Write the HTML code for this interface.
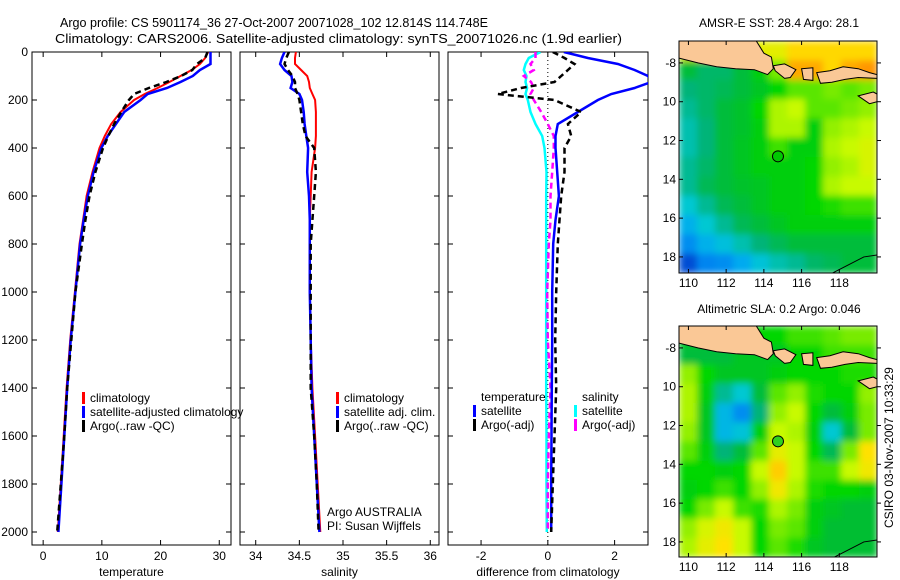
<!DOCTYPE html>
<html><head><meta charset="utf-8"><style>
html,body{margin:0;padding:0;background:#fff;}
svg{display:block;font-family:"Liberation Sans",sans-serif;}
</style></head><body>
<svg id="fig" width="900" height="580" viewBox="0 0 900 580">
<defs>
<filter id="smooth" x="0" y="0" width="1" height="1"><feGaussianBlur stdDeviation="3.5" edgeMode="duplicate"/></filter>
<clipPath id="clipA"><rect x="679" y="41" width="198" height="232"/></clipPath>
<clipPath id="clipB"><rect x="679" y="326" width="198" height="231"/></clipPath>
<clipPath id="clipP1"><rect x="32" y="52" width="199" height="493"/></clipPath>
<clipPath id="clipP2"><rect x="240" y="52" width="199" height="493"/></clipPath>
<clipPath id="clipP3"><rect x="448" y="52" width="200" height="493"/></clipPath>
</defs>
<text x="60" y="27" font-size="13" textLength="428" lengthAdjust="spacingAndGlyphs">Argo profile: CS 5901174_36 27-Oct-2007 20071028_102 12.814S 114.748E</text>
<text x="55" y="43" font-size="13" textLength="567" lengthAdjust="spacingAndGlyphs">Climatology: CARS2006. Satellite-adjusted climatology: synTS_20071026.nc (1.9d earlier)</text>
<text x="779" y="27" font-size="12" text-anchor="middle">AMSR-E SST: 28.4  Argo: 28.1</text>
<text x="779" y="313" font-size="12" text-anchor="middle">Altimetric SLA: 0.2  Argo: 0.046</text>
<text x="0" y="0" font-size="12" transform="translate(893,528) rotate(-90)">CSIRO 03-Nov-2007 10:33:29</text>
<g id="g"></g>
</svg>
<script>
// ---- profile data ----
const depths = [0,25,50,75,100,125,150,175,200,250,300,350,400,500,600,700,800,1000,1200,1400,1600,1800,2000];
const tempClim = [28.1,27.6,26.7,25.3,23.4,21.5,19.5,17.3,15.5,13.2,11.6,10.5,9.6,8.4,7.4,6.8,6.2,5.4,4.6,4.0,3.5,3.0,2.5];
const tempSat  = [28.5,28.5,28.5,26.7,25.5,23.4,21.1,17.8,16.6,13.8,12.4,11.0,9.9,8.6,7.6,6.9,6.3,5.5,4.7,4.1,3.6,3.1,2.6];
const tempArgo = [28.0,27.6,26.2,25.4,23.5,21.0,18.0,15.5,14.6,13.3,12.1,11.1,10.2,8.9,7.9,7.2,6.6,5.5,4.8,4.1,3.6,3.0,2.4];
const salClim = [34.46,34.45,34.45,34.52,34.59,34.61,34.62,34.65,34.68,34.69,34.69,34.69,34.68,34.64,34.63,34.62,34.62,34.62,34.63,34.65,34.68,34.71,34.74];
const salSat  = [34.33,34.30,34.28,34.33,34.41,34.42,34.40,34.50,34.53,34.55,34.56,34.58,34.60,34.59,34.61,34.62,34.62,34.62,34.63,34.64,34.67,34.70,34.73];
const salArgo = [34.38,34.35,34.33,34.37,34.42,34.45,34.45,34.48,34.50,34.52,34.54,34.57,34.67,34.69,34.67,34.65,34.63,34.63,34.63,34.63,34.67,34.70,34.72];
const dTempSat  = [0.48,1.2,2.1,2.6,3.0,3.1,2.6,1.9,1.5,0.9,0.3,0.23,0.23,0.28,0.33,0.23,0.16,0.13,0.13,0.12,0.11,0.1,0.1];
const dTempArgo = [0.15,0.5,0.8,0.6,0.4,0.2,-0.8,-1.5,0.2,1.0,0.6,0.7,0.5,0.5,0.4,0.35,0.3,0.25,0.22,0.25,0.2,0.15,0.1];
const dSalSat  = [-0.22,-0.57,-0.67,-0.72,-0.64,-0.67,-0.62,-0.67,-0.6,-0.52,-0.37,-0.17,-0.1,-0.04,-0.05,-0.05,-0.05,-0.05,-0.05,-0.05,-0.04,-0.04,-0.03];
const dSalArgo = [-0.37,-0.37,-0.52,-0.42,-0.72,-0.5,-0.42,-0.52,-0.42,-0.2,0.0,0.18,0.18,0.13,0.08,0.08,0.03,-0.02,0.0,0.08,0.03,0.0,0.0];
const depthTicks = [0,200,400,600,800,1000,1200,1400,1600,1800,2000];
const tempTicks = [0,10,20,30];
const salTicks = [34,34.5,35,35.5,36];
const diffTicks = [-2,0,2];
// ---- map data (rows lat -7.4 .. -18.4, cols lon 110 .. 120) ----
const sstGrid = [
[0.80,0.85,0.90,0.88,0.80,0.80,0.85,0.85,0.85,0.85,0.85],
[0.55,0.50,0.50,0.55,0.60,0.70,0.90,0.90,0.85,0.90,0.92],
[0.48,0.50,0.52,0.55,0.58,0.62,0.68,0.68,0.70,0.68,0.70],
[0.45,0.50,0.55,0.57,0.62,0.74,0.76,0.68,0.68,0.70,0.72],
[0.42,0.48,0.55,0.57,0.60,0.74,0.74,0.60,0.72,0.74,0.76],
[0.42,0.48,0.55,0.58,0.60,0.66,0.60,0.60,0.74,0.76,0.78],
[0.45,0.50,0.55,0.58,0.60,0.60,0.60,0.62,0.72,0.74,0.78],
[0.45,0.52,0.55,0.57,0.58,0.60,0.60,0.62,0.74,0.76,0.76],
[0.38,0.45,0.52,0.55,0.58,0.60,0.60,0.62,0.64,0.66,0.66],
[0.30,0.38,0.45,0.52,0.55,0.58,0.60,0.60,0.60,0.60,0.60],
[0.22,0.30,0.35,0.42,0.48,0.52,0.55,0.55,0.55,0.55,0.55],
[0.08,0.20,0.22,0.28,0.36,0.42,0.45,0.50,0.52,0.55,0.55]];
const slaGrid = [
[0.60,0.60,0.60,0.62,0.62,0.62,0.66,0.66,0.68,0.70,0.70],
[0.55,0.55,0.55,0.58,0.58,0.58,0.62,0.62,0.66,0.66,0.66],
[0.72,0.62,0.58,0.58,0.58,0.60,0.62,0.62,0.62,0.64,0.64],
[0.74,0.60,0.45,0.38,0.55,0.68,0.72,0.64,0.62,0.62,0.72],
[0.74,0.58,0.32,0.22,0.48,0.72,0.76,0.62,0.55,0.60,0.70],
[0.72,0.58,0.32,0.36,0.60,0.76,0.74,0.60,0.38,0.55,0.70],
[0.68,0.60,0.48,0.55,0.68,0.80,0.76,0.62,0.52,0.70,0.84],
[0.62,0.62,0.60,0.62,0.76,0.86,0.76,0.66,0.66,0.76,0.82],
[0.60,0.62,0.66,0.62,0.72,0.82,0.74,0.64,0.62,0.62,0.60],
[0.62,0.70,0.76,0.66,0.64,0.74,0.70,0.60,0.58,0.56,0.56],
[0.72,0.78,0.82,0.76,0.62,0.70,0.68,0.60,0.56,0.56,0.56],
[0.74,0.80,0.84,0.76,0.62,0.68,0.64,0.58,0.56,0.56,0.56]];
const lonTicks = [110,112,114,116,118];
const latTicks = [-8,-10,-12,-14,-16,-18];
const argoPos = [114.748,-12.814];

const NS='http://www.w3.org/2000/svg';
const G=document.getElementById('g');
function mk(tag,attrs,parent){const e=document.createElementNS(NS,tag);for(const k in attrs)e.setAttribute(k,attrs[k]);(parent||G).appendChild(e);return e;}

const cstops=[[0,[0,40,180]],[0.15,[0,110,240]],[0.28,[0,170,240]],[0.38,[0,200,210]],[0.48,[0,180,120]],[0.56,[0,190,50]],[0.62,[0,215,0]],[0.70,[120,235,0]],[0.76,[200,250,0]],[0.84,[255,225,0]],[0.92,[255,150,0]],[1,[220,30,0]]];
function cmap(v){for(let i=1;i<cstops.length;i++){if(v<=cstops[i][0]){const a=cstops[i-1],b=cstops[i];const t=(v-a[0])/(b[0]-a[0]);const c=a[1].map((x,j)=>Math.round(x+(b[1][j]-x)*t));return 'rgb('+c.join(',')+')';}}return 'rgb(220,30,0)';}

const Y0=52,Y1=545;
function yD(d){return 52+0.24*d;}
function panel(name,x0,x1,vmin,vmax,ticks,fmt,label,clip,showY){
  const xs=v=>x0+(v-vmin)/(vmax-vmin)*(x1-x0);
  const f=mk('rect',{x:x0,y:Y0,width:x1-x0,height:Y1-Y0,fill:'none',stroke:'#000','stroke-width':1});
  
  
  depthTicks.forEach(d=>{
    mk('line',{x1:x0,x2:x0+5,y1:yD(d),y2:yD(d),stroke:'#000'});
    mk('line',{x1:x1,x2:x1-5,y1:yD(d),y2:yD(d),stroke:'#000'});
    if(showY){const t=mk('text',{x:x0-4,y:yD(d)+4,'font-size':12,'text-anchor':'end'});t.textContent=d;
      
      }
  });
  ticks.forEach(v=>{
    const x=xs(v);
    mk('line',{x1:x,x2:x,y1:Y0,y2:Y0+5,stroke:'#000'});
    mk('line',{x1:x,x2:x,y1:Y1,y2:Y1-5,stroke:'#000'});
    const t=mk('text',{x:x,y:560,'font-size':12,'text-anchor':'middle'});t.textContent=fmt(v);
    
    
  });
  const l=mk('text',{x:(x0+x1)/2,y:576,'font-size':12,'text-anchor':'middle'});l.textContent=label;
  
  
  return xs;
}
function series(name,xs,vals,color,dash,w,clip){
  const pts=vals.map((v,i)=>xs(v).toFixed(1)+','+yD(depths[i]).toFixed(1)).join(' ');
  const p=mk('polyline',{points:pts,fill:'none',stroke:color,'stroke-width':w,'stroke-dasharray':dash||'none','clip-path':'url(#'+clip+')'});
  
  
}
function legend(items,x,y0,dy){
  items.forEach((it,i)=>{
    const y=y0+i*dy;
    if(it[1]) mk('rect',{x:x,y:y-6,width:3,height:12,fill:it[1]});
    const t=mk('text',{x:x+8,y:y+4,'font-size':12});t.textContent=it[0];
    
    
  });
}
const xT=panel('temperature-panel',32,231,-1.9,32.0,tempTicks,v=>v,'temperature','clipP1',true);
series('temp-climatology-line',xT,tempClim,'#f00',null,2,'clipP1');
series('temp-satellite-line',xT,tempSat,'#00f',null,2.5,'clipP1');
series('temp-argo-line',xT,tempArgo,'#000','6,4',2.5,'clipP1');
legend([['climatology','#f00'],['satellite-adjusted climatology','#00f'],['Argo(..raw -QC)','#000']],82,398,14);
const xS=panel('salinity-panel',240,439,33.82,36.1,salTicks,v=>v,'salinity','clipP2',false);
series('sal-climatology-line',xS,salClim,'#f00',null,2,'clipP2');
series('sal-satellite-line',xS,salSat,'#00f',null,2.5,'clipP2');
series('sal-argo-line',xS,salArgo,'#000','6,4',2.5,'clipP2');
legend([['climatology','#f00'],['satellite adj. clim.','#00f'],['Argo(..raw -QC)','#000']],336,398,14);
let t1=mk('text',{x:327,y:516,'font-size':12});t1.textContent='Argo AUSTRALIA';


let t2=mk('text',{x:327,y:530,'font-size':12});t2.textContent='PI: Susan Wijffels';


const xD=panel('difference-panel',448,648,-2.99,3.0,diffTicks,v=>v,'difference from climatology','clipP3',false);
mk('line',{x1:xD(0),x2:xD(0),y1:Y0,y2:Y1,stroke:'#000','stroke-dasharray':'1,3'});
series('diff-sal-satellite-line',xD,dSalSat,'#0ff',null,2.5,'clipP3');
series('diff-sal-argo-line',xD,dSalArgo,'#f0f','6,4',2.5,'clipP3');
series('diff-temp-satellite-line',xD,dTempSat,'#00f',null,2.5,'clipP3');
series('diff-temp-argo-line',xD,dTempArgo,'#000','6,4',2.5,'clipP3');
legend([['temperature',null],['satellite','#00f'],['Argo(-adj)','#000']],473,397,14);
legend([['salinity',null],['satellite','#0ff'],['Argo(-adj)','#f0f']],574,397,14);

const java=[[109.5,-6.87],[113.6,-6.87],[114.0,-7.5],[114.4,-7.7],[114.5,-8.3],[114.2,-8.6],[113.5,-8.35],[112.5,-8.3],[111.5,-8.2],[110.5,-8.0],[109.5,-7.75]];
const bali=[[114.5,-8.15],[115.1,-8.05],[115.7,-8.35],[115.4,-8.75],[115.1,-8.8],[114.6,-8.4]];
const lombok=[[116.0,-8.3],[116.6,-8.25],[116.6,-8.9],[116.1,-8.85]];
const sumbawa=[[116.8,-8.5],[117.5,-8.4],[118.2,-8.2],[119.0,-8.3],[119.6,-8.5],[120,-8.6],[120,-8.8],[119,-8.75],[118.3,-8.85],[117.6,-9.0],[117.0,-9.05]];
const sumba=[[119.0,-9.7],[119.8,-9.5],[120,-9.6],[120,-10.0],[119.6,-10.1]];
function drawMap(name,grid,top,lat0,clip,dotColor){
  const x0=679,x1=877,h=(name==='sst-map')?232:231;
  const lx=lon=>x0+(lon-109.5)*18.86;
  const ly=lat=>top+(lat0-lat)*19.4;
  const g=mk('g',{'clip-path':'url(#'+clip+')'});
  
  
  const gb=mk('g',{filter:'url(#smooth)'},g);
  const rows=grid.length,cols=grid[0].length;
  const cw=(x1-x0)/cols,chh=h/rows;
  grid.forEach((row,r)=>row.forEach((v,c)=>{
    const cell=mk('rect',{x:x0+c*cw,y:top+r*chh,width:cw+0.5,height:chh+0.5,fill:cmap(v)},gb);
    
    
  }));
  [java,bali,lombok,sumbawa,sumba].forEach(poly=>{
    const p=mk('polygon',{points:poly.map(q=>lx(q[0]).toFixed(1)+','+ly(q[1]).toFixed(1)).join(' '),fill:'#fac896',stroke:'#000','stroke-width':1},g);
    
    
  });
  mk('polyline',{points:[[117.5,-18.9],[119.3,-18.0],[120,-17.9]].map(q=>lx(q[0])+','+ly(q[1])).join(' '),fill:'none',stroke:'#000'},g);
  const dot=mk('circle',{cx:lx(argoPos[0]),cy:ly(argoPos[1]),r:5.5,fill:dotColor,stroke:'#000','stroke-width':1});
  
  
  const f=mk('rect',{x:x0,y:top,width:x1-x0,height:h,fill:'none',stroke:'#000'});
  
  
  lonTicks.forEach(lon=>{
    const x=lx(lon);
    mk('line',{x1:x,x2:x,y1:top,y2:top+4,stroke:'#000'});
    mk('line',{x1:x,x2:x,y1:top+h,y2:top+h-4,stroke:'#000'});
    const t=mk('text',{x:x,y:top+h+14,'font-size':12,'text-anchor':'middle'});t.textContent=lon;
    
    
  });
  latTicks.forEach(lat=>{
    const y=ly(lat);
    mk('line',{x1:x0,x2:x0+4,y1:y,y2:y,stroke:'#000'});
    mk('line',{x1:x1,x2:x1+4,y1:y,y2:y,stroke:'#000'});
    const t=mk('text',{x:676,y:y+4,'font-size':12,'text-anchor':'end'});t.textContent=(lat===-8?'-8':String(-lat));
    
    
  });
}
drawMap('sst-map',sstGrid,41,-6.87,'clipA','#00c800');
drawMap('sla-map',slaGrid,326,-6.87,'clipB','#30d020');
</script>
</body></html>
